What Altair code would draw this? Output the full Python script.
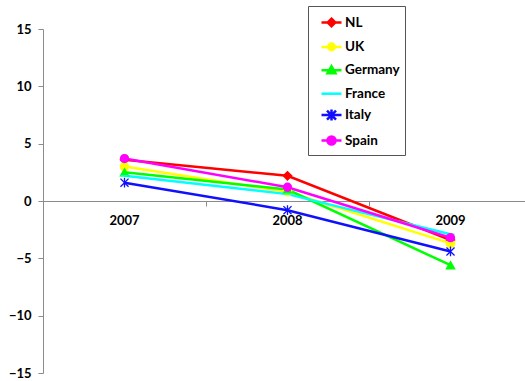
import altair as alt
import pandas as pd

years = ["2007", "2008", "2009"]
countries = ["NL", "UK", "Germany", "France", "Italy", "Spain"]
nl = [3.6, 2.2, -3.4]
uk = [3.0, 0.8, -3.7]
germany = [2.5, 1.0, -5.6]
france = [2.2, 0.6, -2.9]
italy = [1.6, -0.8, -4.4]
spain = [3.7, 1.2, -3.2]

series = [nl, uk, germany, france, italy, spain]
colors = ["#FF0000", "#FFFF00", "#00FF00", "#00FFFF", "#1010FF", "#FF00FF"]

rows = []
for c, vals in zip(countries, series):
    for y, v in zip(years, vals):
        rows.append({"country": c, "year": y, "value": v})
df = pd.DataFrame(rows)

FONT = "Lato"
W, H = 482, 344

# plot marker shapes
mk_shapes = [
    "M0,-1L1,0L0,1L-1,0Z",
    "circle",
    "triangle-up",
    "M-1,0H1",
    "M-1,-1L1,1M-1,1L1,-1M0,-1.2V1.2",
    "circle",
]
mk_sizes = [70, 64, 110, 100, 110, 196]
mk_strokes = [1.3, 1.3, 1.3, 2.0, 0.9, 1.3]

# legend symbols: line + marker
lg_shapes = [
    "M-1,0H1M0,-0.38L0.38,0L0,0.38L-0.38,0Z",
    "M-1,0H1M-0.33,0A0.33,0.33,0,1,0,0.33,0A0.33,0.33,0,1,0,-0.33,0",
    "M-1,0H1M0,-0.4L0.4,0.3L-0.4,0.3Z",
    "M-1,0H1",
    "M-1,0H1M-0.45,-0.45L0.45,0.45M-0.45,0.45L0.45,-0.45M0,-0.55V0.55",
    "M-1,0H1M-0.4,0A0.4,0.4,0,1,0,0.4,0A0.4,0.4,0,1,0,-0.4,0",
]

xscale = alt.Scale(type="band", domain=years, range=[0, 489], paddingInner=0, paddingOuter=0)
yscale = alt.Scale(domain=[-15, 15], nice=False, zero=False)
cscale = alt.Scale(domain=countries, range=colors)

x_lab = alt.X("year:O", scale=xscale, title=None,
              axis=alt.Axis(orient="bottom", offset=-H / 2, ticks=False, domainColor="#8c8c8c",
                            labelPadding=13, labelFont=FONT, labelFontSize=13, labelFontWeight="bold",
                            labelColor="#000000", labelAngle=0))
x_tick = alt.X("year:O", scale=xscale, title=None,
               axis=alt.Axis(orient="bottom", offset=-H / 2, labels=False, domain=False,
                             ticks=True, tickSize=5, tickColor="#8c8c8c", bandPosition=0))
y_enc = alt.Y("value:Q", scale=yscale, title=None,
              axis=alt.Axis(values=[-15, -10, -5, 0, 5, 10, 15], grid=False, tickSize=5,
                            tickColor="#8c8c8c", domainColor="#8c8c8c", labelPadding=7,
                            labelFont=FONT, labelFontSize=13, labelFontWeight="bold",
                            labelColor="#000000"))

lines = alt.Chart(df).mark_line(strokeWidth=2.5).encode(
    x=x_lab,
    y=y_enc,
    stroke=alt.Stroke("country:N", scale=cscale, legend=None),
    detail="country:N",
)

points = alt.Chart(df).mark_point(filled=True, opacity=1).encode(
    x=x_tick,
    y=alt.Y("value:Q", scale=yscale, axis=None),
    fill=alt.Fill("country:N", scale=cscale, legend=None),
    stroke=alt.Stroke("country:N", scale=cscale, legend=None),
    shape=alt.Shape("country:N", scale=alt.Scale(domain=countries, range=mk_shapes), legend=None),
    size=alt.Size("country:N", scale=alt.Scale(domain=countries, range=mk_sizes), legend=None),
    strokeWidth=alt.StrokeWidth("country:N", scale=alt.Scale(domain=countries, range=mk_strokes), legend=None),
    order=alt.Order("idx:Q"),
).transform_calculate(idx="indexof(['NL','UK','Germany','France','Italy','Spain'], datum.country)")

legend_layer = alt.Chart(df).transform_filter("false").mark_point(filled=True).encode(
    x=alt.X("year:O", scale=xscale, axis=None),
    y=alt.Y("value:Q", scale=yscale, axis=None),
    shape=alt.Shape("country:N", scale=alt.Scale(domain=countries, range=lg_shapes),
                    legend=alt.Legend(title=None, orient="none", legendX=265, legendY=-23,
                                      symbolSize=400, symbolStrokeWidth=2.5, symbolOpacity=1,
                                      rowPadding=3.4, padding=5, symbolOffset=7, labelOffset=2,
                                      strokeColor="#555555", labelFont=FONT, labelFontSize=13.5,
                                      labelFontWeight="bold", labelColor="#000000",
                                      values=countries, labelLimit=200)),
    fill=alt.Fill("country:N", scale=alt.Scale(domain=countries, range=colors)),
    stroke=alt.Stroke("country:N", scale=alt.Scale(domain=countries, range=colors)),
)

chart = alt.layer(lines, points, legend_layer).resolve_scale(
    shape="independent", size="independent", fill="independent", stroke="independent",
    strokeWidth="independent"
).resolve_axis(x="independent", y="independent").properties(
    width=W, height=H,
    padding={"left": 43, "top": 29, "right": 0, "bottom": 8},
    autosize=alt.AutoSizeParams(type="none"),
    background="white",
).configure_view(stroke=None)

chart.save("out.html", embed_options={"renderer": "svg", "actions": False})
